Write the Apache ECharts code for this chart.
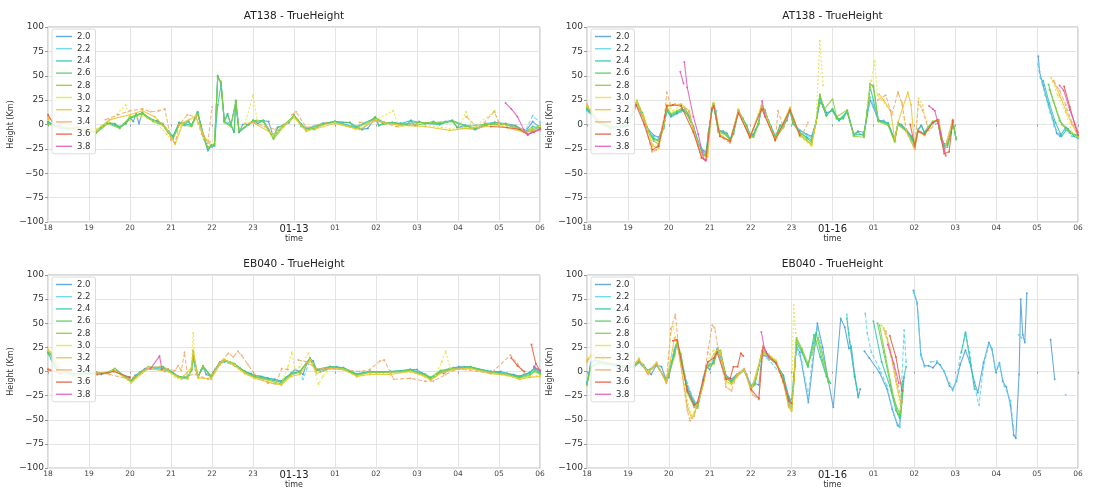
<!DOCTYPE html>
<html>
<head>
<meta charset="utf-8">
<script src="https://cdn.jsdelivr.net/npm/echarts@6/dist/echarts.min.js"></script>
<style>
html, body { margin: 0; padding: 0; background: #fff; }
#chart { width: 1101px; height: 490px; }
</style>
</head>
<body>
<div id="chart"></div>
<script>
// x = hours since 18:00, y = height (Km); GAP breaks a line
const GAP = [null, null];

const seriesNames = ['2.0', '2.2', '2.4', '2.6', '2.8', '3.0', '3.2', '3.4', '3.6', '3.8'];
const seriesColors = ['#4e9bd8', '#5ad2ea', '#2cc6a8', '#4fcf5a', '#8acc36', '#e4e43c', '#e8c42c', '#f0a868', '#e4583c', '#e056b8'];
const seriesDash = ['solid', [4, 2], 'solid', 'solid', 'solid', [2, 2], 'solid', [4, 2], 'solid', 'solid'];

const xLabelsLeft = ['18', '19', '20', '21', '22', '23', '01-13', '01', '02', '03', '04', '05', '06'];
const xLabelsRight = ['18', '19', '20', '21', '22', '23', '01-16', '01', '02', '03', '04', '05', '06'];

// ---- AT138, 01-13 ----
const tl20 = [[0,3],[0.15,-1],[0.3,-4],[0.5,-5],[0.7,-3],[0.9,-5],[1.05,-7],[1.17,-8],[1.3,-3],[1.46,2],[1.63,0],[1.75,-3],[1.9,1],[2.0,7],[2.08,3],[2.15,11],[2.22,1],[2.3,12],[2.43,7],[2.56,4],[2.68,4],[2.8,0],[2.93,-8],[3.05,-13],[3.13,-6],[3.2,2],[3.33,-1],[3.42,4],[3.5,-1],[3.65,13],[3.73,-1],[3.8,-13],[3.9,-27],[3.98,-21],[4.06,-22],[4.14,50],[4.22,42],[4.3,4],[4.38,11],[4.46,-1],[4.54,-8],[4.58,24],[4.66,-8],[4.75,0],[4.9,0],[5.0,4],[5.12,1],[5.25,4],[5.38,3],[5.5,-13],[5.6,-3],[5.75,-1],[5.88,2],[6.0,9],[6.1,4],[6.18,-1],[6.3,-5],[6.5,-4],[6.7,1],[7.0,3],[7.2,2],[7.36,2],[7.5,-3],[7.66,-5],[7.8,-4],[7.98,7],[8.07,-1],[8.2,2],[8.4,2],[8.6,1],[8.75,0],[8.85,4],[8.95,-1],[9.05,3],[9.2,1],[9.4,3],[9.55,0],[9.7,3],[9.86,4],[9.98,-3],[10.18,-1],[10.42,-5],[10.67,1],[10.9,2],[11.16,1],[11.4,-1],[11.65,-7],[11.82,3],[12,-3]];
const tl22 = [[1.17,-7],[1.46,1],[1.75,-2],[2.0,6],[2.15,10],[2.3,11],[2.56,5],[2.8,1],[3.05,-12],[3.2,1],[3.5,0],[3.65,12],[3.8,-12],[3.9,-26],[4.06,-22],[4.14,49],[4.22,41],[4.3,5],[4.46,0],[4.58,22],[4.66,-7],[5.0,3],[5.25,4],[5.5,-12],[5.75,0],[6.0,8],[6.3,-4],[6.7,1],[7.0,3],[7.5,-2],[7.98,6],[8.2,2],[8.6,1],[9.05,2],[9.4,2],[9.86,3],[10.18,-1],[10.67,0],[11.16,0],[11.65,-6],[11.82,9],[12,2]];
const tl24 = [[0,2],[0.5,-4],[1.0,-6],[1.17,-8],[1.46,2],[1.75,-3],[2.0,6],[2.15,9],[2.3,12],[2.56,4],[2.8,0],[2.93,-7],[3.05,-12],[3.2,2],[3.5,-1],[3.65,12],[3.8,-12],[3.9,-25],[4.06,-21],[4.14,20],[4.22,40],[4.3,3],[4.46,-1],[4.58,23],[4.66,-8],[5.0,4],[5.25,3],[5.5,-13],[5.75,-1],[6.0,9],[6.3,-5],[6.7,1],[7.0,3],[7.5,-3],[7.98,7],[8.2,2],[8.6,1],[8.85,4],[9.2,1],[9.55,0],[9.86,4],[10.18,-1],[10.42,-4],[10.9,2],[11.4,-2],[11.65,-8],[11.82,-2],[12,-4]];
const tl26 = [[0,1],[0.4,-4],[0.8,-3],[1.17,-8],[1.3,-2],[1.46,2],[1.63,1],[1.75,-3],[1.9,1],[2.0,7],[2.15,10],[2.3,12],[2.43,7],[2.68,3],[2.8,0],[2.93,-8],[3.05,-14],[3.2,1],[3.42,3],[3.5,-1],[3.65,12],[3.8,-14],[3.9,-25],[4.06,-20],[4.14,49],[4.22,43],[4.3,3],[4.38,10],[4.54,-8],[4.58,25],[4.66,-7],[4.9,0],[5.0,4],[5.25,4],[5.5,-14],[5.6,-3],[5.88,2],[6.0,10],[6.18,-2],[6.5,-5],[6.7,0],[7.0,3],[7.36,2],[7.66,-5],[7.98,8],[8.07,-1],[8.4,2],[8.75,0],[8.95,-1],[9.2,1],[9.55,1],[9.86,4],[9.98,-3],[10.42,-5],[10.9,2],[11.4,-2],[11.65,-8],[11.82,-6],[12,-2]];
const tl28 = [[0,0],[0.5,-3],[1.0,-5],[1.17,-9],[1.46,1],[1.75,-4],[2.0,8],[2.15,9],[2.3,11],[2.56,3],[2.8,-1],[3.05,-15],[3.2,0],[3.5,-2],[3.65,11],[3.8,-15],[3.9,-23],[4.06,-20],[4.14,48],[4.22,44],[4.3,2],[4.46,-2],[4.58,24],[4.66,-6],[5.0,3],[5.25,3],[5.5,-15],[5.75,-2],[6.0,9],[6.3,-6],[6.7,0],[7.0,2],[7.5,-4],[7.98,6],[8.2,1],[8.6,0],[9.05,2],[9.4,2],[9.86,3],[10.18,-2],[10.67,0],[11.16,0],[11.65,-8],[11.82,-4],[12,-1]];
const tl30 = [[0,5],[0.4,-2],[1.0,-6],[1.2,-6],[1.5,3],[1.9,20],[2.0,4],[2.3,9],[2.6,3],[2.9,-10],[3.1,-20],[3.25,0],[3.6,10],[3.8,-14],[3.95,-20],GAP,[4.8,0],[5.0,30],[5.1,5],[5.5,-12],[6.0,7],[6.3,-6],[7.0,2],[7.5,-5],[8.0,5],[8.42,14],[8.55,-2],[9.0,0],[9.6,-3],[10.0,-5],[10.2,13],[10.35,-4],[10.9,14],[11.0,0],[11.6,-6],[12,-2]];
const tl32 = [[0,6],[0.3,2],[0.7,-2],[1.2,-5],[1.5,5],[2.0,10],[2.3,14],[2.6,8],[2.9,-5],[3.1,-20],[3.3,2],[3.6,8],[3.85,-15],[3.95,-18],GAP,[4.8,1],[5.0,2],[5.5,-10],[6.0,8],[6.3,-7],[7.0,1],[7.6,-5],[8.0,4],[8.6,-1],[9.2,-2],[9.8,-6],[10.2,-4],[11.0,-1],[11.6,-8],[12,-5]];
const tl34 = [[0,8],[0.1,4],[0.3,0],GAP,[1.4,5],[1.7,10],[2.0,14],[2.3,16],[2.5,13],[2.7,14],[2.85,16],[3.0,-16],[3.1,-19],[3.2,0],[3.4,10],[3.6,8],[3.75,-10],[3.9,-19],[4.0,18],GAP,[5.0,2],[5.3,-2],[5.55,-5],GAP,[5.95,10],[6.05,13],[6.3,-3],[6.8,2],GAP,[7.6,2],[7.98,4],[8.5,-2],[9.0,0],GAP,[10.2,8],[10.5,-4],[10.88,13],[11.0,2],[11.5,-4],[11.7,-9],[12,-6]];
const tl36 = [[0,10],[0.1,3],GAP,[10.8,-2],[11.2,-3],[11.5,-5],[11.7,-10],[11.85,-8],[12,-4]];
const tl38 = [[11.16,22],[11.3,16],[11.45,8],[11.6,-5],[11.7,-11],[11.8,-8],[12,-5]];

// ---- AT138, 01-16 ----
const tr20 = [[0,15],[0.1,11],[0.25,5],[0.45,-1],[0.7,-3],[0.95,-2],[1.1,10],[1.22,21],[1.32,12],[1.5,-5],[1.63,-11],[1.75,-13],[1.87,-2],[1.95,14],[2.05,8],[2.2,11],[2.32,14],[2.4,16],[2.5,9],[2.6,-2],[2.76,-22],[2.85,-27],[2.92,-28],[2.97,-8],[3.05,14],[3.09,20],[3.15,14],[3.21,-6],[3.33,-7],[3.42,-9],[3.5,-15],[3.58,-9],[3.7,13],[3.8,6],[3.9,-1],[3.98,-10],[4.07,-10],[4.19,1],[4.27,18],[4.35,14],[4.43,4],[4.5,-2],[4.6,-12],[4.68,-7],[4.8,-1],[4.88,4],[4.96,15],[5.04,1],[5.2,-6],[5.37,-10],[5.49,-12],[5.6,3],[5.69,22],[5.77,20],[5.85,12],[6.0,14],[6.1,7],[6.16,4],[6.26,7],[6.36,13],[6.42,4],[6.52,-10],[6.62,-7],[6.77,-8],[6.85,10],[6.92,25],[7.0,18],[7.12,4],[7.25,4],[7.36,1],[7.52,-15],[7.6,1],[7.68,0],[7.8,-5],[7.93,-12],[8.01,-20],[8.09,-5],[8.17,-1],[8.25,-8],[8.33,-3],[8.45,2],[8.57,4],[8.65,-12],[8.73,-20],[8.81,-19],[8.9,-7],[8.94,3],[9.02,-14],GAP,[11.03,70],[11.06,54],[11.15,40],[11.28,20],[11.4,4],[11.48,-9],[11.56,-12],[11.7,-3],[11.82,-9],[12,-11]];
const tr22 = [[0,14],[0.25,4],[0.6,-3],[1.0,0],[1.1,9],[1.22,20],[1.35,10],[1.5,-6],[1.63,-12],[1.75,-14],[1.87,-3],[1.95,13],[2.1,9],[2.3,13],[2.4,15],[2.6,-3],[2.76,-23],[2.9,-29],[2.97,-9],[3.05,13],[3.09,19],[3.21,-7],[3.42,-10],[3.5,-16],[3.7,12],[3.9,-2],[4.0,-11],[4.19,0],[4.27,17],[4.43,3],[4.6,-13],[4.8,-2],[4.96,14],[5.04,0],[5.37,-11],[5.49,-14],[5.6,2],[5.69,24],[5.77,18],[5.85,10],[6.0,15],[6.16,5],[6.36,12],[6.52,-11],[6.77,-9],[6.85,8],[6.92,28],[7.0,20],[7.12,5],[7.36,2],[7.52,-16],[7.6,0],[7.8,-6],[8.01,-21],[8.09,-6],[8.25,-9],[8.45,1],[8.57,3],[8.73,-22],[8.9,-8],[8.94,2],[9.02,-15],GAP,[11.02,62],[11.08,48],[11.2,30],[11.32,12],[11.42,-2],[11.55,-10],[11.7,-5],[11.85,-12],[12,-13]];
const tr24 = [[0,16],[0.3,3],[0.6,-3],[1.0,-1],[1.1,11],[1.22,22],[1.35,11],[1.5,-7],[1.63,-14],[1.75,-16],[1.87,-4],[1.95,15],[2.05,9],[2.2,12],[2.32,15],[2.5,8],[2.6,-3],[2.76,-25],[2.9,-31],[2.97,-10],[3.05,15],[3.09,21],[3.21,-6],[3.33,-8],[3.5,-16],[3.7,14],[3.8,7],[3.98,-11],[4.07,-11],[4.19,1],[4.27,19],[4.43,4],[4.6,-13],[4.72,-1],[4.88,4],[4.96,16],[5.04,1],[5.2,-8],[5.37,-13],[5.49,-16],[5.6,2],[5.69,28],[5.77,18],[5.85,9],[6.0,16],[6.16,4],[6.36,14],[6.52,-11],[6.77,-10],[6.85,12],[6.92,38],[7.0,25],[7.12,4],[7.36,1],[7.52,-16],[7.6,2],[7.8,-6],[7.93,-13],[8.01,-21],[8.09,-6],[8.17,-1],[8.25,-9],[8.45,2],[8.57,4],[8.65,-13],[8.73,-22],[8.81,-21],[8.9,-8],[8.94,4],[9.02,-15],GAP,[11.15,45],[11.3,22],[11.45,2],[11.6,-12],[11.75,-4],[11.9,-12],[12,-14]];
const tr26 = [[0,17],[0.1,12],[0.3,2],[0.6,-4],[1.0,0],[1.1,12],[1.22,24],[1.35,12],[1.5,-7],[1.63,-15],[1.75,-17],[1.87,-3],[1.95,17],[2.05,10],[2.2,13],[2.32,16],[2.44,11],[2.6,-3],[2.76,-27],[2.85,-31],[2.92,-32],[2.97,-10],[3.05,16],[3.09,21],[3.21,-6],[3.33,-8],[3.42,-10],[3.5,-17],[3.58,-10],[3.7,14],[3.8,6],[3.9,-1],[3.98,-12],[4.07,-12],[4.19,1],[4.27,19],[4.35,15],[4.43,4],[4.6,-14],[4.72,-1],[4.8,-2],[4.96,16],[5.04,2],[5.2,-8],[5.37,-14],[5.49,-18],[5.6,3],[5.69,30],[5.77,18],[5.85,9],[6.0,16],[6.1,6],[6.26,6],[6.36,14],[6.52,-11],[6.62,-8],[6.77,-12],[6.85,14],[6.92,41],[7.0,40],[7.12,4],[7.36,0],[7.52,-17],[7.6,1],[7.8,-6],[7.93,-14],[8.01,-23],[8.09,-6],[8.25,-10],[8.33,-3],[8.45,3],[8.57,4],[8.65,-14],[8.73,-24],[8.81,-23],[8.9,-8],[8.94,4],[9.02,-15],GAP,[11.28,41],[11.4,24],[11.55,4],[11.7,-3],[11.85,-9],[12,-12]];
const tr28 = [[0,18],[0.3,1],[0.6,-4],[1.0,1],[1.1,13],[1.22,25],[1.35,10],[1.5,-8],[1.63,-17],[1.75,-20],[1.87,-4],[1.95,18],[2.05,11],[2.2,14],[2.32,17],[2.44,11],[2.6,-4],[2.76,-28],[2.92,-33],[2.97,-12],[3.05,17],[3.09,22],[3.21,-8],[3.42,-11],[3.5,-17],[3.7,15],[3.9,-2],[3.98,-13],[4.07,-13],[4.19,0],[4.27,20],[4.43,3],[4.6,-15],[4.8,-3],[4.96,17],[5.04,2],[5.2,-10],[5.37,-16],[5.49,-20],[5.6,2],[5.69,31],[5.8,16],[6.0,26],[6.1,8],[6.36,15],[6.52,-12],[6.77,-13],[6.85,15],[6.92,42],[7.0,38],[7.12,3],[7.36,-1],[7.52,-18],[7.6,0],[7.8,-7],[8.01,-25],[8.09,-7],[8.25,-11],[8.45,2],[8.57,5],[8.65,-15],[8.73,-26],[8.9,-9],[8.94,5],[9.02,-15],GAP,[11.3,36],[11.45,18],[11.6,0],[11.75,-6],[12,-13]];
const tr30 = [[0,20],[0.3,4],[0.6,-2],GAP,[1.1,14],[1.22,24],[1.4,8],[1.6,-20],[1.75,-24],[1.9,5],[1.95,20],[2.1,14],[2.3,20],[2.5,12],[2.6,-5],[2.8,-30],[2.95,-30],[3.05,18],[3.1,22],[3.25,-9],[3.5,-18],[3.7,16],[3.98,-14],[4.27,22],[4.6,-16],[4.96,18],[5.2,-12],[5.49,-22],[5.6,5],[5.69,86],[5.77,40],GAP,[6.85,20],[6.95,45],[7.03,65],[7.1,30],[7.2,25],[7.42,14],GAP,[7.6,33],[7.7,20],[7.8,-8],[8.01,-26],[8.1,27],[8.2,20],[8.35,-4],[8.6,4],[8.73,-26],[8.94,5],GAP,[11.34,48],[11.5,30],[11.7,12],[11.85,-8],[12,-12]];
const tr32 = [[0,19],[0.3,3],[0.6,-1],GAP,[1.1,13],[1.22,22],[1.4,6],[1.6,-22],[1.75,-24],[1.9,6],[1.95,20],[2.1,20],[2.3,21],[2.5,14],[2.6,-6],[2.8,-32],[2.95,-33],[3.05,17],[3.1,22],[3.25,-10],[3.5,-18],[3.7,14],[3.98,-13],[4.27,19],[4.6,-16],[4.96,17],[5.2,-11],[5.49,-21],[5.6,3],GAP,[7.14,31],[7.25,25],[7.42,14],[7.52,-15],[7.6,2],[7.84,33],[7.92,20],[8.01,-24],[8.09,-6],[8.25,-11],[8.45,3],[8.6,5],[8.73,-27],[8.94,5],GAP,[11.4,45],[11.55,30],[11.7,15],[11.85,0],[12,-10]];
const tr34 = [[0,21],[0.2,5],GAP,[1.1,12],[1.22,20],[1.4,2],[1.59,-28],[1.7,-26],[1.9,10],[1.95,33],[2.05,19],[2.15,21],[2.3,20],[2.5,13],[2.6,-6],[2.8,-34],[2.92,-36],[3.05,16],[3.1,20],[3.25,-12],[3.5,-19],[3.7,15],[3.98,-14],[4.27,18],[4.6,-17],[4.67,14],[4.8,-3],[4.96,16],[5.2,-12],[5.28,-9],[5.4,2],GAP,[7.1,25],[7.3,30],[7.45,10],[7.6,33],[7.7,22],[7.8,-5],[8.01,-25],[8.1,23],[8.2,15],[8.35,-6],[8.6,3],[8.73,-28],[8.94,4],GAP,[11.4,45],[11.55,35],[11.7,20],[11.85,2],[12,-12]];
const tr36 = [[1.2,20],[1.4,0],[1.6,-26],[1.75,-22],[1.9,8],[1.95,19],[2.1,20],[2.3,19],[2.6,-8],[2.8,-34],[2.9,-37],[3.05,16],[3.1,19],[3.25,-12],[3.5,-17],[3.7,12],[3.98,-13],[4.27,16],[4.6,-16],[4.96,15],[5.2,-11],GAP,[7.9,0],[8.01,-22],[8.09,-7],[8.25,-10],[8.45,2],[8.57,5],[8.73,-30],[8.85,-28],[8.94,4],GAP,[11.66,39],[11.8,18],[11.92,0],[12,-11]];
const tr38 = [[2.28,54],[2.36,42],GAP,[2.38,64],[2.45,38],[2.6,8],[2.72,-10],[2.85,-35],[2.9,-37],GAP,[4.28,24],[4.35,8],GAP,[8.36,19],[8.45,16],[8.5,14],[8.65,-10],[8.77,-32],GAP,[11.55,40],[11.65,35],[11.8,15],[12,-8]];

// ---- EB040, 01-13 ----
const bl20 = [[0,21],[0.08,18],[0.15,6],[0.3,-2],[0.5,-1],[0.7,-3],[0.9,-1],[1.05,-2],[1.19,-1],[1.3,-3],[1.46,-1],[1.63,3],[1.72,-1],[1.87,-5],[1.98,-6],[2.03,-10],[2.12,-4],[2.24,-1],[2.36,3],[2.45,4],[2.6,4],[2.76,2],[2.8,5],[2.85,0],[2.93,2],[3.05,-1],[3.17,-5],[3.25,-7],[3.41,-6],[3.5,2],[3.54,14],[3.6,2],[3.66,-5],[3.74,2],[3.78,5],[3.86,-3],[3.98,-5],[4.07,2],[4.19,9],[4.31,11],[4.43,10],[4.55,7],[4.67,4],[4.8,0],[4.95,-2],[5.04,-4],[5.2,-5],[5.37,-7],[5.53,-8],[5.69,-10],[5.81,-6],[5.93,-2],[6.02,2],[6.14,0],[6.22,-3],[6.3,7],[6.39,13],[6.47,11],[6.55,2],[6.65,0],[6.79,2],[6.88,5],[7.04,5],[7.2,4],[7.37,0],[7.53,-3],[7.69,-1],[7.85,0],[8.02,-1],[8.18,-1],[8.35,0],[8.59,-0.5],[8.84,2],[9.0,2],[9.12,-1.5],[9.2,-3],[9.33,-7],[9.45,-5],[9.57,0],[9.65,-2],[9.77,2],[9.9,4],[10.02,5],[10.16,5],[10.3,5],[10.47,2],[10.63,1],[10.8,0],[11.04,0],[11.2,-2],[11.35,-3],[11.5,-5],[11.62,-3],[11.75,-1],[11.87,4],[12,-1]];
const bl22 = [[0,20],[0.15,5],[0.5,-2],[1.19,-2],[1.46,-2],[1.63,2],[1.87,-6],[2.03,-9],[2.24,-2],[2.45,3],[2.76,3],[2.93,1],[3.17,-6],[3.41,-7],[3.5,1],[3.54,12],[3.66,-6],[3.78,4],[3.98,-6],[4.19,8],[4.31,10],[4.55,6],[4.8,-1],[5.04,-5],[5.37,-8],[5.69,-11],[5.93,-3],[6.14,-1],[6.22,-8],[6.39,12],[6.55,1],[6.88,4],[7.2,4],[7.53,-2],[7.85,-1],[8.35,-1],[8.84,2],[9.2,-4],[9.33,-8],[9.57,-1],[9.9,3],[10.3,4],[10.8,0],[11.2,-2],[11.5,-6],[11.75,-2],[11.87,6],[12,1]];
const bl24 = [[0,19],[0.2,3],[0.6,-2],[1.19,-1],[1.46,-1],[1.63,3],[1.87,-5],[2.03,-10],[2.24,-1],[2.45,4],[2.8,4],[2.93,2],[3.17,-5],[3.41,-6],[3.5,2],[3.54,15],[3.66,-5],[3.78,5],[3.98,-5],[4.19,9],[4.31,11],[4.55,7],[4.8,0],[5.04,-4],[5.37,-7],[5.69,-10],[5.93,-2],[6.14,0],[6.39,13],[6.55,2],[6.88,5],[7.2,4],[7.53,-3],[7.85,0],[8.35,0],[8.84,2],[9.2,-3],[9.33,-7],[9.57,0],[9.9,4],[10.3,5],[10.8,0],[11.2,-2],[11.5,-5],[11.75,-1],[11.87,3],[12,-1]];
const bl26 = [[0,20],[0.1,15],[0.2,2],[0.6,-3],[1.19,-2],[1.46,-1],[1.63,3],[1.87,-5],[2.03,-9],[2.24,-1],[2.45,4],[2.8,5],[2.93,2],[3.17,-5],[3.41,-6],[3.5,3],[3.54,17],[3.66,-5],[3.78,6],[3.98,-5],[4.19,10],[4.31,12],[4.55,8],[4.8,0],[5.04,-5],[5.37,-8],[5.69,-11],[5.93,-2],[6.14,0],[6.39,14],[6.55,2],[6.88,5],[7.2,4],[7.53,-3],[7.85,0],[8.35,0],[8.84,1],[9.2,-3],[9.33,-6],[9.57,1],[9.9,4],[10.3,5],[10.8,-1],[11.2,-3],[11.5,-6],[11.75,-3],[11.87,1],[12,-2]];
const bl28 = [[0,21],[0.1,16],[0.25,1],[0.6,-4],[1.19,-2],[1.46,-2],[1.63,2],[1.87,-6],[2.03,-11],[2.24,-2],[2.45,5],[2.8,4],[2.93,1],[3.17,-6],[3.41,-7],[3.5,2],[3.54,21],[3.66,-6],[3.78,5],[3.98,-6],[4.19,10],[4.31,12],[4.55,8],[4.8,-1],[5.04,-6],[5.37,-9],[5.69,-13],[5.93,-3],[6.14,-1],[6.39,14],[6.55,1],[6.88,4],[7.2,3],[7.53,-4],[7.85,-1],[8.35,-1],[8.84,1],[9.2,-4],[9.33,-8],[9.57,0],[9.9,3],[10.3,4],[10.8,-1],[11.2,-3],[11.5,-7],[11.75,-4],[11.87,0],[12,-3]];
const bl30 = [[0,22],[0.1,18],[0.3,0],[0.7,-4],[1.19,-3],[1.63,2],[2.03,-12],[2.45,4],[2.93,0],[3.1,-6],[3.25,-8],[3.41,-8],[3.5,5],[3.54,40],[3.6,3],[3.66,-7],[3.98,-7],[4.19,8],[4.31,13],[4.55,7],[4.8,-2],[5.04,-7],[5.37,-10],[5.69,-14],[5.85,5],[5.95,20],[6.02,2],[6.14,5],[6.35,19],[6.45,8],[6.6,-13],[6.7,-5],[6.88,3],[7.2,2],[7.53,-5],[7.85,-2],[8.35,-2],[8.84,0],[9.2,-6],[9.33,-9],[9.45,-4],[9.6,10],[9.7,21],[9.8,4],[9.9,2],[10.3,3],[10.8,-2],[11.2,-4],[11.5,-8],[11.75,-5],[12,-4]];
const bl32 = [[0,23],[0.1,19],[0.3,-1],GAP,[1.2,-2],[1.63,1],[2.03,-11],[2.45,3],[2.93,0],[3.25,-7],[3.5,4],[3.54,22],[3.66,-6],[3.98,-8],[4.19,7],[4.31,12],[4.55,6],[4.8,-2],[5.04,-7],[5.37,-11],[5.69,-14],[5.93,-5],[6.14,-3],[6.39,12],[6.55,-2],[6.88,3],[7.2,2],[7.53,-5],[7.85,-3],[8.35,-3],[8.84,0],[9.2,-5],[9.33,-9],[9.57,-2],[9.9,2],[10.3,3],[10.8,-2],[11.2,-4],[11.5,-8],[11.75,-6],[12,-5]];
const bl34 = [[0,3],[0.3,-1],GAP,[1.2,-1],[1.5,-3],[2.0,-8],[2.4,3],[2.72,5],[2.9,3],[3.1,1],[3.17,6],[3.25,1],[3.33,20],[3.4,-4],[3.6,-3],[3.9,-8],[4.19,9],[4.4,19],[4.52,15],[4.63,21],[4.72,17],[4.88,7],[5.04,-3],[5.37,-12],[5.55,-13],[5.7,3],[5.85,2],GAP,[6.1,12],[6.3,10],[6.55,3],[7.0,3],[7.6,0],[7.85,2],[8.1,11],[8.2,12],[8.35,-1],[8.43,-8],[8.84,-7],[9.2,-10],[9.4,-10],[9.7,-3],[10.0,3],[10.8,-2],[11.28,17],[11.45,8],[11.62,-2]];
const bl36 = [[0,2],[0.3,-2],GAP,[1.2,-3],[1.6,0],[2.0,-6],GAP,[11.3,14],[11.45,6],[11.62,0],GAP,[11.79,28],[11.9,8],[12,1]];
const bl38 = [[2.5,3],[2.72,16],[2.78,2],GAP,[11.85,5],[12,1]];

// ---- EB040, 01-16 ----
const br20 = [[0,-12],[0.09,8],[0.2,12],[0.4,10],[0.7,6],[1.0,3],[1.15,6],[1.27,10],[1.38,7],[1.48,1],[1.57,-3],[1.7,7],[1.82,5],[1.94,-9],[2.0,-6],[2.14,22],[2.2,28],[2.3,10],[2.45,-15],[2.62,-32],[2.7,-34],[2.84,-8],[2.92,6],[3.0,2],[3.1,12],[3.18,22],[3.26,15],[3.4,-4],[3.53,-8],[3.66,-3],[3.84,2],[3.9,-3],[4.01,-15],[4.1,-12],[4.2,-14],[4.28,18],[4.45,14],[4.62,8],[4.8,-4],[4.93,-26],[5.0,-31],[5.06,-3],[5.12,26],[5.2,20],[5.41,-32],[5.63,50],[5.76,25],[5.89,-8],[6.02,-37],[6.2,55],[6.3,46],[6.4,24],[6.46,26],[6.54,-3],[6.63,-27],[6.68,-18],GAP,[6.78,21],[6.9,14],[7.15,-1],[7.33,-18],[7.46,-39],[7.59,-56],[7.64,-57],[7.7,-30],[7.75,-6],GAP,[7.98,84],[8.07,70],[8.16,18],[8.25,6],[8.35,6],[8.46,4],[8.55,9],[8.63,7],[8.73,0],[8.86,-15],[8.94,-18],[9.03,-10],[9.12,7],[9.25,22],[9.35,10],[9.47,-11],[9.55,-22],[9.69,9],[9.82,30],[9.9,23],[9.99,-1],[10.08,9],[10.16,-10],[10.25,-16],[10.35,-35],[10.43,-66],[10.48,-69],[10.56,-3],[10.6,75],[10.65,38],[10.7,30],[10.75,81],GAP,[11.33,33],[11.43,-8]];
const br22 = [[0,-10],[0.09,10],[0.3,11],[0.8,5],[1.15,5],[1.27,9],[1.48,0],[1.7,6],[1.94,-8],[2.14,25],[2.2,30],[2.45,-12],[2.62,-30],[2.7,-33],[2.84,-6],[2.92,5],[3.1,13],[3.18,24],[3.4,-5],[3.53,-9],[3.84,1],[4.01,-14],[4.1,-10],[4.28,17],[4.45,12],[4.8,-6],[4.93,-30],[5.0,-33],[5.12,24],[5.25,10],[5.41,-25],[5.55,30],[5.63,46],[5.8,10],[5.9,-10],GAP,[6.35,59],[6.4,40],[6.54,-5],[6.63,-26],GAP,[6.8,60],[6.85,40],[6.95,20],[7.15,3],[7.33,-15],[7.5,-45],[7.64,-58],[7.75,43],[7.8,10],GAP,[7.98,82],[8.07,72],[8.16,16],[8.25,5],GAP,[8.4,10],[8.55,11],[8.73,0],[8.86,-12],[8.94,-20],[9.03,-8],[9.12,15],[9.25,41],[9.35,20],[9.47,-15],[9.58,-35],[9.69,5],[9.82,28],[9.9,22],[9.99,0],[10.08,8],[10.2,-15],[10.35,-30],[10.43,-60],GAP,[10.55,38],[10.62,35],GAP,[11.7,-24]];
const br24 = [[0,-12],[0.09,6],[0.3,10],[1.15,5],[1.27,10],[1.48,1],[1.7,7],[1.94,-9],[2.14,20],[2.2,32],[2.45,-18],[2.62,-33],[2.7,-36],[2.84,-10],[2.92,5],[3.1,10],[3.18,23],[3.26,20],[3.4,-5],[3.53,-10],[3.66,-4],[3.84,1],[4.01,-16],[4.1,-12],[4.28,20],[4.45,15],[4.62,9],[4.8,-6],[4.93,-28],[5.0,-33],[5.06,-5],[5.12,30],[5.25,20],[5.4,5],[5.55,38],[5.7,15],[5.85,-5],[5.95,-12],GAP,[6.35,55],[6.42,30],[6.54,-5],[6.63,-25],GAP,[7.0,52],[7.2,10],[7.4,-15],[7.55,-40],[7.64,-48],[7.72,-10],[7.8,5],GAP,[9.15,20],[9.25,40],[9.35,15],[9.47,-18]];
const br26 = [[0,-14],[0.09,5],[0.3,9],[1.15,4],[1.27,11],[1.48,0],[1.7,7],[1.94,-10],[2.14,18],[2.2,31],[2.3,15],[2.45,-20],[2.62,-35],[2.7,-37],[2.84,-12],[2.92,4],[3.1,9],[3.18,22],[3.26,21],[3.4,-6],[3.53,-11],[3.66,-4],[3.84,2],[4.01,-17],[4.1,-13],[4.28,21],[4.45,16],[4.62,10],[4.8,-8],[4.93,-32],[5.0,-37],[5.06,-8],[5.12,33],[5.25,22],[5.4,5],[5.6,40],[5.75,12],[5.9,-11],GAP,[7.1,50],[7.25,20],[7.45,-20],[7.6,-44],[7.66,-46],[7.72,-20]];
const br28 = [[0,-13],[0.09,4],[0.3,8],[1.15,4],[1.27,12],[1.48,-1],[1.7,8],[1.94,-11],[2.14,16],[2.2,30],[2.3,18],[2.45,-22],[2.62,-37],[2.7,-38],[2.84,-13],[2.92,3],[3.1,8],[3.18,20],[3.26,22],[3.4,-6],[3.53,-12],[3.66,-5],[3.84,3],[4.01,-18],[4.1,-14],[4.28,22],[4.45,17],[4.62,11],[4.8,-9],[4.93,-35],[5.0,-40],[5.06,-10],[5.12,35],[5.25,24],[5.4,8],[5.65,35],[5.8,10],[5.9,-9],GAP,[7.15,48],[7.3,15],[7.5,-28],[7.64,-44],[7.7,-30]];
const br30 = [[0,14],[0.1,18],[0.3,15],GAP,[1.15,8],[1.27,14],[1.48,0],[1.7,10],[1.94,-12],[2.05,40],[2.1,47],[2.2,30],[2.45,-30],[2.55,-45],[2.62,-42],[2.84,-15],[3.0,18],[3.1,22],[3.2,18],[3.26,20],[3.4,-12],[3.53,-14],[3.66,-5],[3.84,3],[4.01,-20],[4.28,18],[4.45,18],[4.62,12],[4.8,-10],[4.93,-36],[5.0,-40],[5.05,69],[5.1,40],GAP,[7.2,48],[7.35,30],[7.5,0],[7.66,-38]];
const br32 = [[0,12],[0.15,18],[0.4,13],GAP,[1.15,7],[1.27,13],[1.48,-2],[1.7,9],[1.94,-12],[2.14,35],[2.2,30],[2.45,-35],[2.55,-48],[2.62,-44],[2.84,-14],[2.92,5],[3.1,18],[3.18,22],[3.26,20],[3.4,-10],[3.53,-13],[3.66,-6],[3.84,2],[4.01,-20],[4.28,20],[4.45,17],[4.62,10],[4.8,-11],[4.93,-37],[5.0,-41],[5.06,-10],[5.1,30],GAP,[7.25,45],[7.4,25],[7.55,-10],[7.68,-35]];
const br34 = [[0,10],[0.1,16],[0.25,21],[0.4,16],GAP,[1.15,8],[1.27,12],[1.5,-3],[1.7,8],[1.94,-10],[2.05,44],[2.16,59],[2.25,20],[2.45,-40],[2.52,-51],[2.62,-46],[2.84,-12],[2.95,20],[3.06,48],[3.12,45],[3.2,25],[3.4,-16],[3.53,-20],[3.66,-3],[3.84,3],[3.95,-10],[4.05,-24],[4.2,-29],[4.3,27],[4.45,14],[4.62,8],[4.8,-12],[4.93,-35],[5.0,-38],GAP,[7.3,42],[7.45,15],[7.6,-15],[7.7,-30]];
const br36 = [[2.1,32],[2.2,33],[2.45,-20],[2.62,-35],[2.7,-32],[2.84,-9],[2.95,10],[3.1,14],[3.18,20],[3.4,-8],[3.5,-7],[3.58,5],[3.68,5],[3.76,19],[3.82,16],GAP,[4.0,-18],[4.2,-28],[4.3,25],[4.45,15],[4.62,9],[4.8,-10],[4.93,-30],[5.0,-33],GAP,[7.4,37],[7.55,15],[7.7,-20]];
const br38 = [[4.26,41],[4.33,25],[4.45,15],GAP,[7.35,28],[7.5,8],[7.62,-12]];

const panels = [
  { title: 'AT138 - TrueHeight', left: 48, top: 27, width: 492, height: 195, labels: xLabelsLeft,
    data: [tl20, tl22, tl24, tl26, tl28, tl30, tl32, tl34, tl36, tl38] },
  { title: 'AT138 - TrueHeight', left: 587, top: 27, width: 491, height: 195, labels: xLabelsRight,
    data: [tr20, tr22, tr24, tr26, tr28, tr30, tr32, tr34, tr36, tr38] },
  { title: 'EB040 - TrueHeight', left: 48, top: 275, width: 492, height: 195, labels: xLabelsLeft,
    data: [bl20, bl22, bl24, bl26, bl28, bl30, bl32, bl34, bl36, bl38] },
  { title: 'EB040 - TrueHeight', left: 587, top: 275, width: 491, height: 195, labels: xLabelsRight,
    data: [br20, br22, br24, br26, br28, br30, br32, br34, br36, br38] }
];

const FONT = '"DejaVu Sans", sans-serif';
const chart = echarts.init(document.getElementById('chart'), null, { renderer: 'canvas' });

const option = {
  animation: false,
  backgroundColor: '#fff',
  textStyle: { fontFamily: FONT },
  title: [], grid: [], xAxis: [], yAxis: [], legend: [], series: []
};

panels.forEach(function (p, i) {
  option.title.push({
    text: p.title, left: p.left + p.width / 2, top: p.top - 16, textAlign: 'center', padding: 0,
    textStyle: { fontSize: 10.5, fontWeight: 'normal', color: '#222', fontFamily: FONT }
  });
  option.grid.push({
    left: p.left, top: p.top, width: p.width, height: p.height,
    show: true, borderColor: '#b0b0b0', borderWidth: 1, backgroundColor: '#fff'
  });
  const labels = p.labels;
  option.xAxis.push({
    type: 'value', gridIndex: i, min: 0, max: 12, interval: 1,
    name: 'time', nameLocation: 'middle', nameGap: 12,
    nameTextStyle: { fontSize: 8, color: '#333', fontFamily: FONT },
    axisLine: { show: false },
    axisTick: { show: true, length: 2, lineStyle: { color: '#999' } },
    splitLine: { show: true, lineStyle: { color: '#e4e4e4', width: 1 } },
    axisLabel: {
      margin: 2, fontSize: 7.5, color: '#444', fontFamily: FONT,
      showMinLabel: true, showMaxLabel: true,
      formatter: function (v) {
        const s = labels[Math.round(v)] || '';
        return s.indexOf('-') > 0 ? '{d|' + s + '}' : s;
      },
      rich: { d: { fontSize: 10, color: '#222', fontFamily: FONT } }
    }
  });
  option.yAxis.push({
    type: 'value', gridIndex: i, min: -100, max: 100, interval: 25,
    name: 'Height (Km)', nameLocation: 'middle', nameGap: 28,
    nameTextStyle: { fontSize: 8, color: '#333', fontFamily: FONT },
    axisLine: { show: false },
    axisTick: { show: true, length: 3, lineStyle: { color: '#999' } },
    splitLine: { show: true, lineStyle: { color: '#e4e4e4', width: 1 } },
    axisLabel: {
      margin: 4, fontSize: 9, color: '#333', fontFamily: FONT,
      formatter: function (v) { return v < 0 ? '\u2212' + (-v) : String(v); }
    }
  });
  option.legend.push({
    data: seriesNames, orient: 'vertical', left: p.left + 4, top: p.top + 2,
    icon: 'rect', itemWidth: 16, itemHeight: 1.4, itemGap: 3.2,
    padding: [3, 5, 3, 4], backgroundColor: 'rgba(255,255,255,0.85)',
    borderColor: '#dcdcdc', borderWidth: 1, borderRadius: 2,
    textStyle: { fontSize: 8.5, lineHeight: 9, color: '#333', fontFamily: FONT },
    selectedMode: false
  });
  p.data.forEach(function (d, k) {
    option.series.push({
      name: seriesNames[k], type: 'line', xAxisIndex: i, yAxisIndex: i,
      data: d, connectNulls: false, symbol: 'circle', symbolSize: 2, showSymbol: true,
      color: seriesColors[k],
      lineStyle: { color: seriesColors[k], width: 1.1, type: seriesDash[k], opacity: 0.85 },
      itemStyle: { color: seriesColors[k], opacity: 0.85 },
      emphasis: { disabled: true }, z: 2 + k * 0.01
    });
  });
});

chart.setOption(option);
</script>
</body>
</html>
